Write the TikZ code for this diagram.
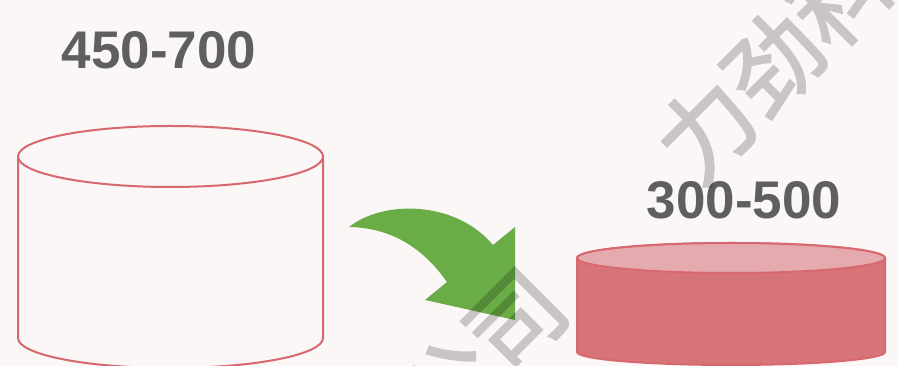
\documentclass[tikz,border=0pt]{standalone}
\usepackage{fontspec}
\setmainfont{Liberation Sans}
\newfontfamily\cjkwm[FakeBold=2]{Noto Sans CJK SC}

\definecolor{bgpink}{HTML}{FBF7F6}
\definecolor{cylred}{HTML}{D8686F}
\definecolor{cylbody}{HTML}{D77478}
\definecolor{cyltop}{HTML}{E5AAAE}
\definecolor{labelgray}{HTML}{5F5F5F}
\definecolor{arrowgreen}{HTML}{6AAC46}

\begin{document}
\begin{tikzpicture}[x=1pt, y=1pt,
  cylline/.style={draw=cylred, line width=2pt},
  rangelabel/.style={font=\fontsize{53}{60}\selectfont\bfseries, text=labelgray, anchor=base, inner sep=0pt},
  watermark/.style={font=\fontsize{95}{95}\selectfont\cjkwm, text=black, rotate=45, inner sep=0pt}]
  \useasboundingbox (0,0) rectangle (898,366);
  \clip (0,0) rectangle (898,366);
  \fill[bgpink] (0,0) rectangle (898,366);
  % left cylinder, outline only, bottom runs off the page
  \coordinate (oldtop) at (170.5,209.5);
  \draw[cylline] (18,209.5) -- (18,28) arc[start angle=180, end angle=360, x radius=152.5, y radius=30] -- (323,209.5);
  \draw[cylline] (oldtop) ellipse[x radius=152.5, y radius=30.5];
  % right cylinder, filled
  \coordinate (newtop) at (731,108);
  \filldraw[cylline, fill=cylbody] (577,108) -- (577,14) arc[start angle=180, end angle=360, x radius=154, y radius=13]
    -- (885,108) arc[start angle=0, end angle=180, x radius=154, y radius=15] -- cycle;
  \filldraw[cylline, fill=cyltop] (newtop) ellipse[x radius=154, y radius=15];
  % range labels
  \node[rangelabel] (oldrange) at (159,297) {450-700};
  \node[rangelabel] (newrange) at (744,147) {300-500};
  % curved green arrow
  \fill[arrowgreen] (349,139) .. controls (383,166) and (455,166) .. (493,121)
    -- (515,139) -- (515,46) -- (425,66) -- (447,84)
    .. controls (425,115) and (395,138) .. cycle;
  % watermark
  \begin{scope}[transparency group, opacity=0.2]
    \node[watermark] (wmtop) at (807,337) {力劲科技};
    \node[watermark] (wmbottom) at (482,12) {公司};
  \end{scope}
\end{tikzpicture}
\end{document}
